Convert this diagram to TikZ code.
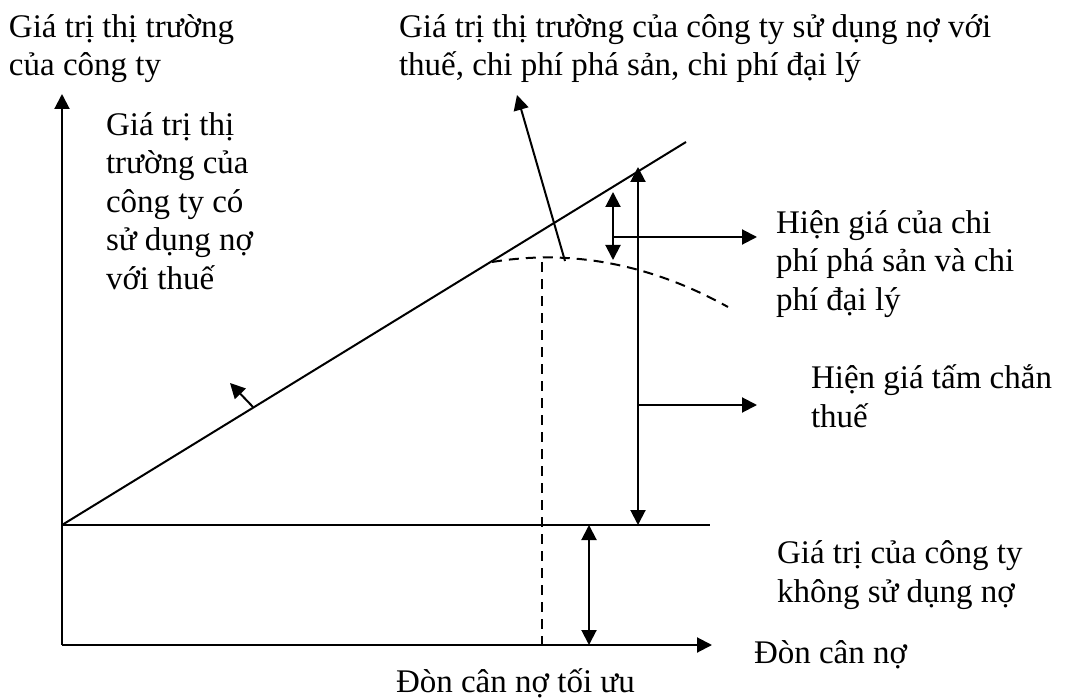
\documentclass[tikz,border=0pt]{standalone}
\usepackage{fontspec}
\setmainfont{Liberation Serif}
\usetikzlibrary{arrows.meta}

\tikzset{
  lbl/.style={anchor=base west, inner sep=0pt, align=left,
    font=\fontsize{16.5}{19.25}\selectfont},
  dashline/.style={dash pattern=on 5pt off 3.5pt}
}

\begin{document}
\begin{tikzpicture}[x=0.5pt, y=-0.5pt, line width=1pt,
    >={Triangle[length=7.5pt,width=7.5pt]}]
    \useasboundingbox (0,0) rectangle (1070,700);

    % trục toạ độ
    \coordinate (O) at (62,645);
    \coordinate (ytop) at (62,94);
    \coordinate (xend) at (712,645);
    \draw[->] (O) -- (ytop);
    \draw[->] (O) -- (xend);

    % giá trị công ty không vay nợ
    \coordinate (V0) at (62,525);
    \coordinate (V0end) at (710,525);
    \draw (V0) -- (V0end);

    % đường giá trị có thuế
    \coordinate (Vt) at (686,142);
    \draw (V0) -- (Vt);
    \coordinate (Vtmid) at (253,407);
    \coordinate (Vtptr) at (230,383);
    \draw[->] (Vtmid) -- (Vtptr);

    % đường nét đứt: có chi phí phá sản, chi phí đại lý
    \coordinate (C0) at (492,262);
    \coordinate (Cend) at (728,307);
    \draw[dashline] (C0) .. controls (535,255) and (622,248) .. (Cend);
    \coordinate (Cpk) at (565,261);
    \coordinate (Cptr) at (517,95);
    \draw[->] (Cpk) -- (Cptr);

    % đòn cân nợ tối ưu
    \coordinate (opt) at (542,262);
    \coordinate (optx) at (542,645);
    \draw[dashline] (opt) -- (optx);

    % hiện giá chi phí phá sản và đại lý
    \coordinate (Ba) at (613,192);
    \coordinate (Bb) at (613,260);
    \coordinate (Bm) at (613,237);
    \coordinate (Bend) at (757,237);
    \draw[<->] (Ba) -- (Bb);
    \draw[->] (Bm) -- (Bend);

    % hiện giá tấm chắn thuế
    \coordinate (Ta) at (638,167);
    \coordinate (Tb) at (638,525);
    \coordinate (Tm) at (638,405);
    \coordinate (Tend) at (757,405);
    \draw[<->] (Ta) -- (Tb);
    \draw[->] (Tm) -- (Tend);

    % giá trị không vay nợ
    \coordinate (Ua) at (589,525);
    \coordinate (Ub) at (589,645);
    \draw[<->] (Ua) -- (Ub);

    % nhãn (anchor ở dòng cuối)
    \node[lbl] (ylab) at (8,76) {Giá trị thị trường\\của công ty};
    \node[lbl] (clab) at (398,76) {Giá trị thị trường của công ty sử dụng nợ với\\thuế, chi phí phá sản, chi phí đại lý};
    \node[lbl] (tlab) at (105,289) {Giá trị thị\\trường của\\công ty có\\sử dụng nợ\\với thuế};
    \node[lbl] (blab) at (775,310) {Hiện giá của chi\\phí phá sản và chi\\phí đại lý};
    \node[lbl] (slab) at (810,427) {Hiện giá tấm chắn\\thuế};
    \node[lbl] (ulab) at (776,602) {Giá trị của công ty\\không sử dụng nợ};
    \node[lbl] (xlab) at (753,663) {Đòn cân nợ};
    \node[lbl] (olab) at (395,692) {Đòn cân nợ tối ưu};

\end{tikzpicture}
\end{document}
